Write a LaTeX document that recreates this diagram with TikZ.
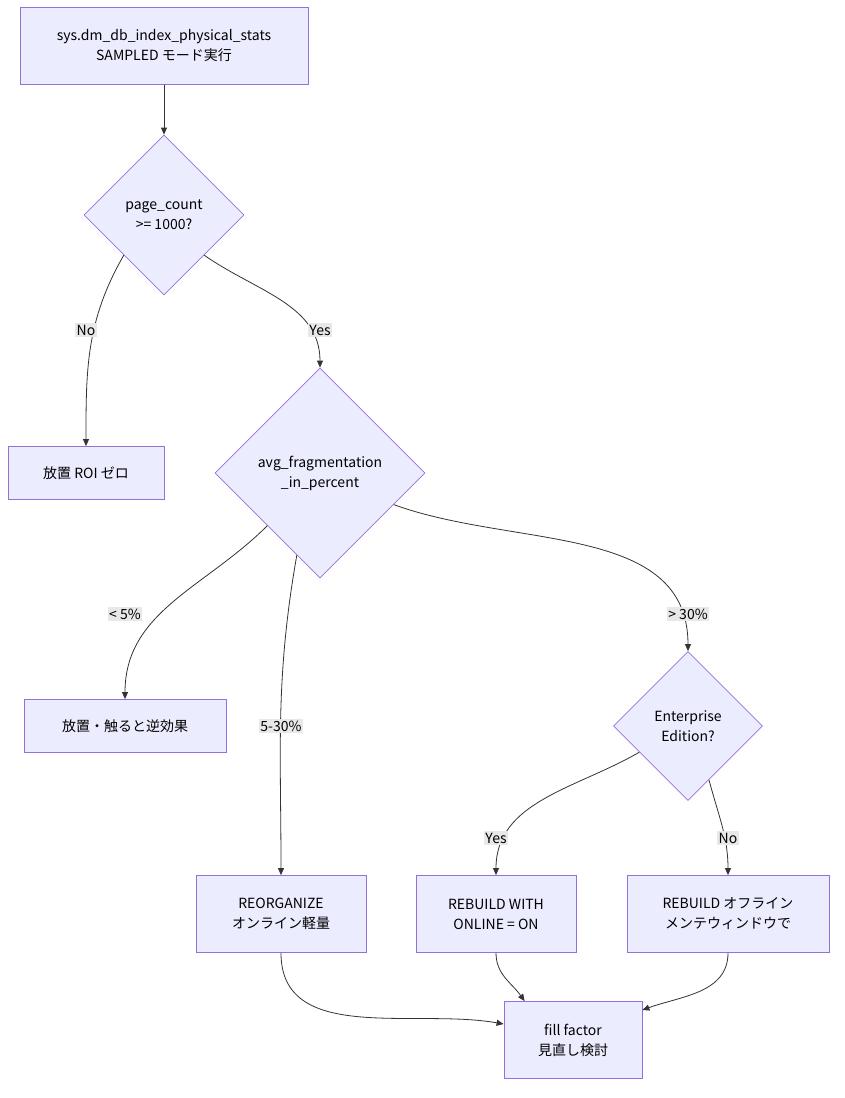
\documentclass[tikz,border=0pt]{standalone}
\usepackage{fontspec}
\setmainfont{Noto Sans CJK JP}
\usetikzlibrary{shapes.geometric,arrows.meta,calc}
\begin{document}
\begin{tikzpicture}[x=1pt,y=-1pt,
  box/.style={draw=#1,fill=#1!0,},
  base/.style={draw={rgb,255:red,147;green,112;blue,219},fill={rgb,255:red,236;green,236;blue,255},line width=0.8pt,font=\fontsize{14}{20}\selectfont,align=center,inner sep=0},
  rect/.style={base,rectangle},
  dia/.style={base,diamond,aspect=1},
  lab/.style={fill={rgb,255:red,232;green,232;blue,232},font=\fontsize{14}{16}\selectfont,inner sep=1.5pt},
  ed/.style={draw={rgb,255:red,51;green,51;blue,51},line width=0.8pt,-{Triangle[length=7pt,width=6pt]}}]
\useasboundingbox (0,0) rectangle (845,1098);
\node[rect,minimum width=288,minimum height=77] (top) at (164,46) {sys.dm\_db\_index\_physical\_stats\\SAMPLED モード実行};
\node[dia,minimum width=160,minimum height=160] (d1) at (164,215) {page\_count\\>= 1000?};
\node[rect,minimum width=156,minimum height=53] (l1) at (86,473) {放置 ROI ゼロ};
\node[dia,minimum width=210,minimum height=210] (d2) at (320,473) {avg\_fragmentation\\\_in\_percent};
\node[rect,minimum width=202,minimum height=53] (l2) at (125,726) {放置・触ると逆効果};
\node[dia,minimum width=149,minimum height=149] (d3) at (688,726) {Enterprise\\Edition?};
\node[rect,minimum width=170,minimum height=77] (ro) at (281,914) {REORGANIZE\\オンライン軽量};
\node[rect,minimum width=160,minimum height=77] (rn) at (496,914) {REBUILD WITH\\ONLINE = ON};
\node[rect,minimum width=202,minimum height=77] (rf) at (728,914) {REBUILD オフライン\\メンテウィンドウで};
\node[rect,minimum width=138,minimum height=77] (ff) at (573,1040) {fill factor\\見直し検討};
\draw[ed] (top.south) -- (d1.north);
\draw[ed] (d1.south west) to[out=-120,in=90] (l1.north);
\draw[ed] (d1.south east) to[out=-35,in=90] (d2.north);
\draw[ed] (d2.south west) to[out=-135,in=90] (l2.north);
\draw[ed] ($(d2.south)!0.22!(d2.west)$) to[out=-100,in=90] (ro.north);
\draw[ed] ($(d2.east)!0.3!(d2.south)$) to[out=-20,in=90] (d3.north);
\draw[ed] ($(d3.west)!0.35!(d3.south)$) to[out=-150,in=90] (rn.north);
\draw[ed] ($(d3.east)!0.72!(d3.south)$) to[out=-75,in=90] (rf.north);
\draw[ed] (ro.south) to[out=-90,in=170] ($(ff.west)+(0,-16)$);
\draw[ed] (rn.south) to[out=-90,in=125] ($(ff.north west)+(21,0)$);
\draw[ed] (rf.south) to[out=-90,in=20] ($(ff.east)+(0,-30)$);
\node[lab] (n1) at (86,330) {No};
\node[lab] (y1) at (320,330) {Yes};
\node[lab] (p5) at (125,614) {< 5\%};
\node[lab] (p30) at (281,726) {5-30\%};
\node[lab] (g30) at (688,614) {> 30\%};
\node[lab] (y2) at (496,838) {Yes};
\node[lab] (n2) at (728,838) {No};
\end{tikzpicture}
\end{document}
